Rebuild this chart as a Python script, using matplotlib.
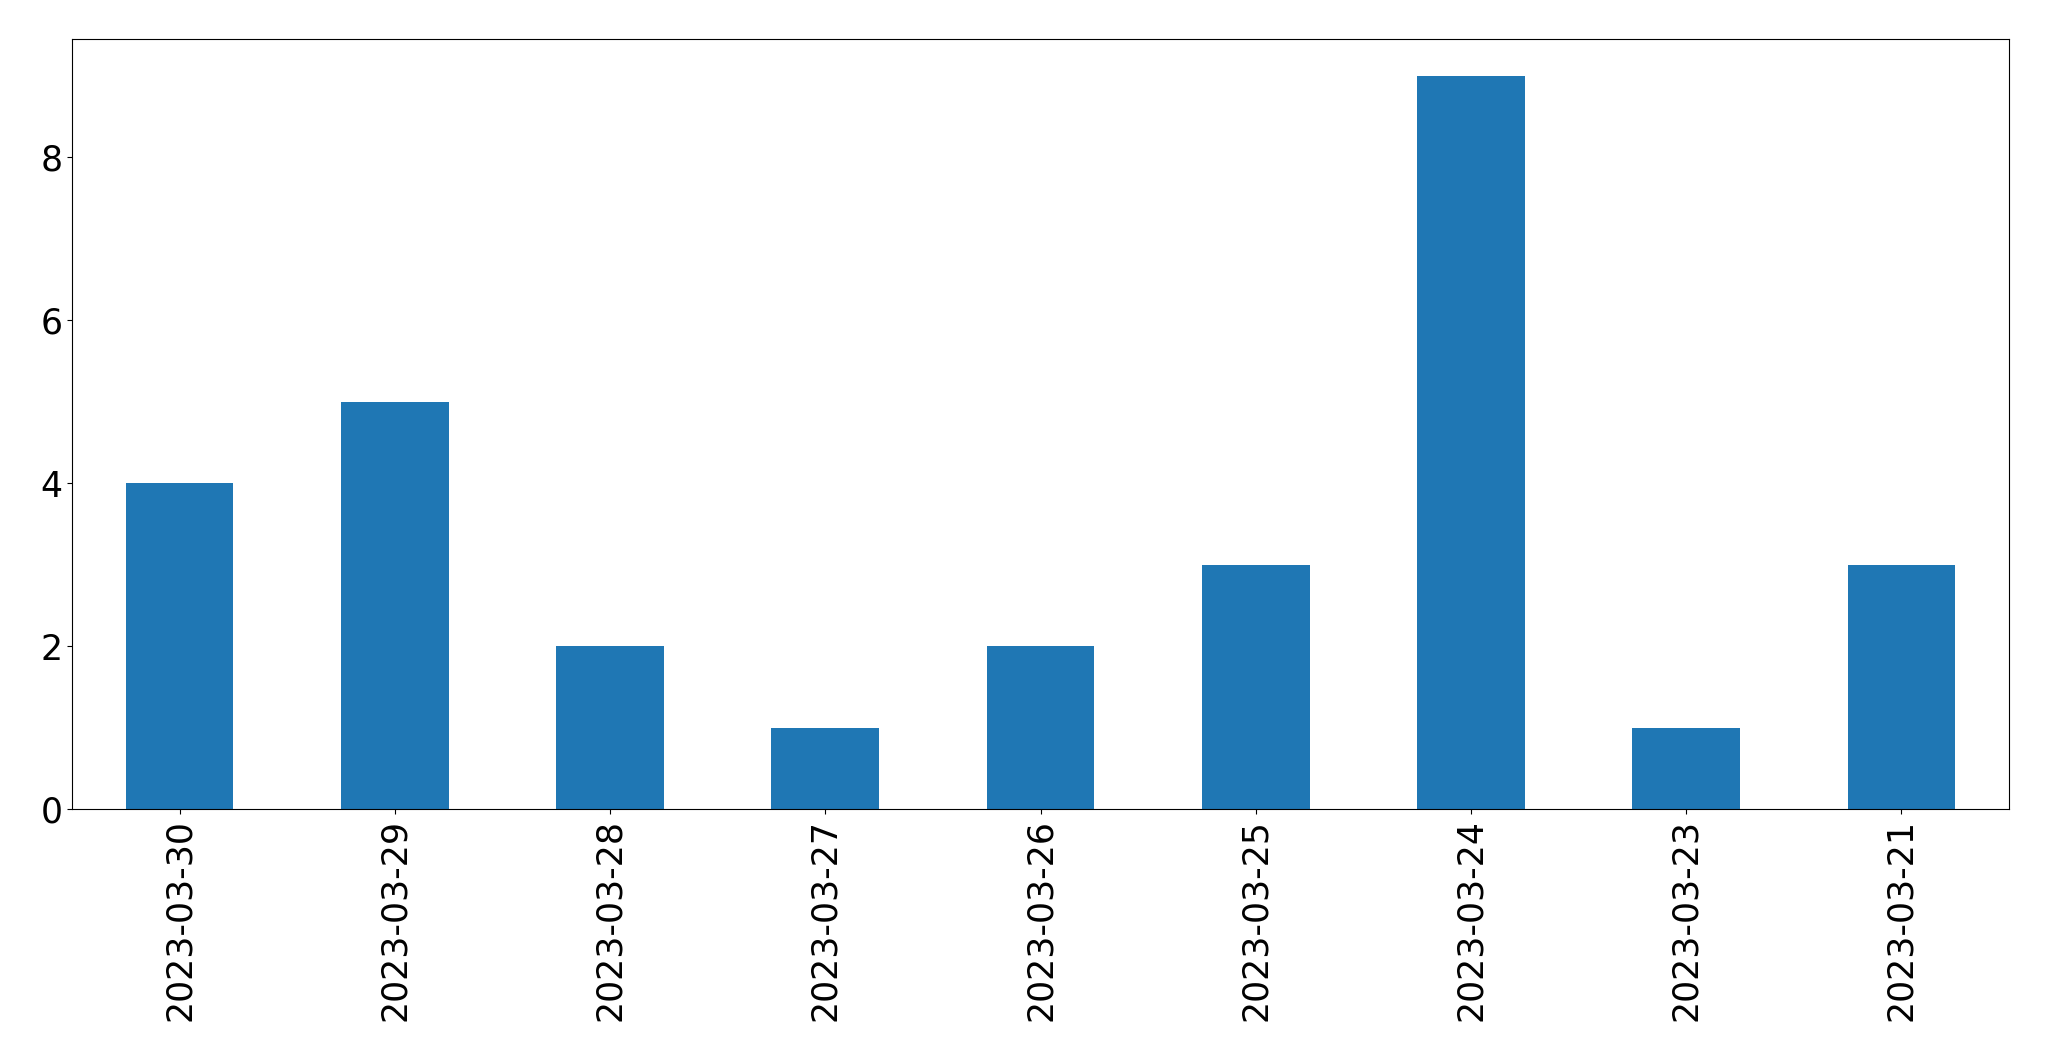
import matplotlib
matplotlib.use('Agg')
import matplotlib.pyplot as plt
import pandas as pd

dates = ['2023-03-30', '2023-03-29', '2023-03-28', '2023-03-27', '2023-03-26',
         '2023-03-25', '2023-03-24', '2023-03-23', '2023-03-21']
counts = [4, 5, 2, 1, 2, 3, 9, 1, 3]

s = pd.Series(counts, index=dates)

fig = plt.figure(figsize=(20.49, 10.61), dpi=100)
ax = fig.add_axes([72 / 2049, 1 - 809 / 1061, (2009 - 72) / 2049, (809 - 39) / 1061])
s.plot(kind='bar', ax=ax, color='#1f77b4', fontsize=25)
ax.set_xlabel('')

plt.savefig('out.png', dpi=100)
